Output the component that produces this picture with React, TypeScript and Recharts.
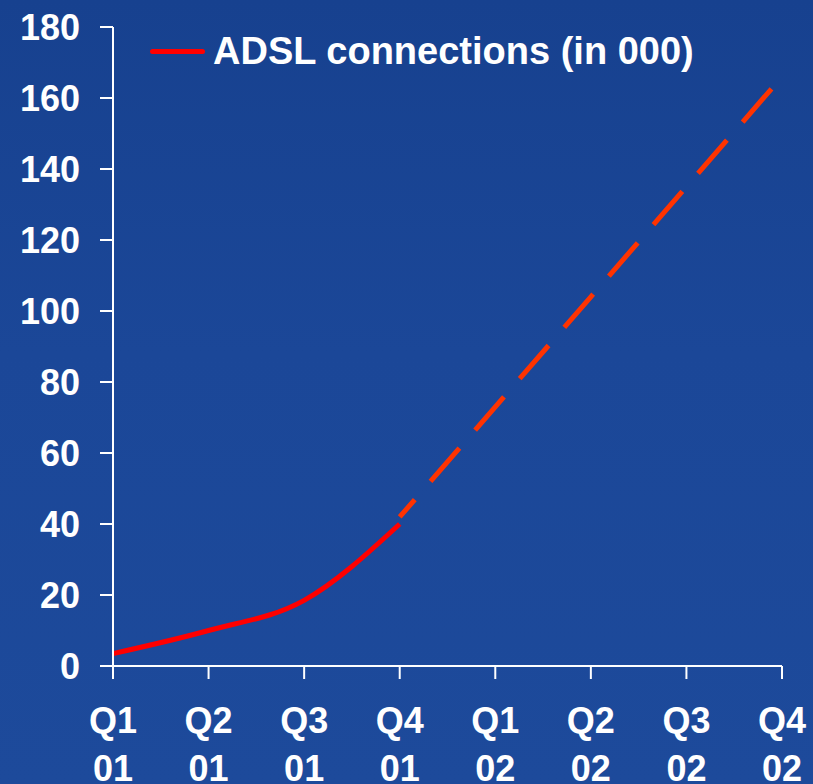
import { Line, LineChart, XAxis, YAxis } from 'recharts'

const QUARTERS = ['Q1', 'Q2', 'Q3', 'Q4', 'Q1', 'Q2', 'Q3', 'Q4']
const YEARS = ['01', '01', '01', '01', '02', '02', '02', '02']
const ACTUAL = [3.5, 10, 18.5, 40, null, null, null, null]
const FORECAST = [null, null, null, 42, 73, 104, 135, 166]
const Y_TICKS = [0, 20, 40, 60, 80, 100, 120, 140, 160, 180]
const SERIES_NAME = 'ADSL connections (in 000)'

const chartData = QUARTERS.map((q, i) => ({
  key: `${q} ${YEARS[i]}`,
  actual: ACTUAL[i],
  forecast: FORECAST[i],
}))

const FONT = '"Liberation Sans", Arial, sans-serif'

function QuarterTick(props: any) {
  const { x, y, index } = props
  return (
    <text x={x} y={y} textAnchor="middle" fill="#fff" fontFamily={FONT} fontWeight={700} fontSize={36}>
      <tspan x={x} dy={52}>{QUARTERS[index]}</tspan>
      <tspan x={x} dy={48}>{YEARS[index]}</tspan>
    </text>
  )
}

export default function App() {
  return (
    <div
      style={{
        position: 'absolute',
        left: 0,
        top: 0,
        width: 813,
        height: 784,
        background: 'linear-gradient(180deg, #17418f 0%, #1b4798 45%, #1d4a9b 100%)',
      }}
    >
      <LineChart width={813} height={784} data={chartData} margin={{ top: 27, right: 31, bottom: 0, left: 0 }}>
        <XAxis
          dataKey="key"
          interval={0}
          height={118}
          stroke="#fff"
          strokeWidth={2}
          tickSize={13}
          tickLine={{ stroke: '#fff', strokeWidth: 2 }}
          tick={<QuarterTick />}
        />
        <YAxis
          domain={[0, 180]}
          ticks={Y_TICKS}
          interval={0}
          width={113}
          stroke="#fff"
          strokeWidth={2}
          tickSize={13}
          tickMargin={20}
          tickLine={{ stroke: '#fff', strokeWidth: 2 }}
          tick={{ fill: '#fff', fontFamily: FONT, fontWeight: 700, fontSize: 36 }}
        />
        <Line
          type="monotone"
          dataKey="actual"
          stroke="#ff0000"
          strokeWidth={5}
          dot={false}
          activeDot={false}
          isAnimationActive={false}
        />
        <Line
          type="linear"
          dataKey="forecast"
          stroke="#ff3300"
          strokeWidth={5}
          strokeDasharray="44 24"
          strokeDashoffset={21}
          dot={false}
          activeDot={false}
          isAnimationActive={false}
        />
      </LineChart>
      {/* legend sits on top of the plot, so keep it out of the chart layout */}
      <div
        style={{
          position: 'absolute',
          left: 150,
          top: 29,
          display: 'flex',
          alignItems: 'center',
          fontFamily: FONT,
        }}
      >
        <span style={{ width: 55, height: 5, borderRadius: 3, background: '#ff0000', marginRight: 8 }} />
        <span style={{ color: '#fff', fontWeight: 700, fontSize: 38, lineHeight: '44px' }}>{SERIES_NAME}</span>
      </div>
    </div>
  )
}
